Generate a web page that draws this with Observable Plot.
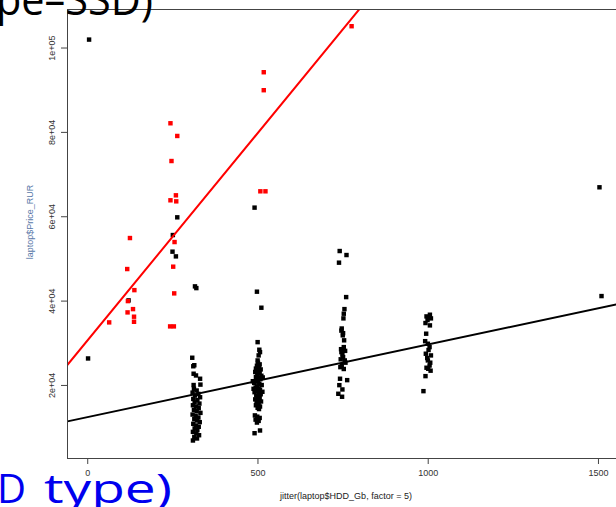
<!DOCTYPE html>
<html><head><meta charset="utf-8">
<script src="https://cdn.jsdelivr.net/npm/d3@7"></script>
<script src="https://cdn.jsdelivr.net/npm/@observablehq/plot@0.6"></script>
<style>
html,body{margin:0;padding:0;background:#fff;overflow:hidden}
#wrap{position:relative;width:616px;height:507px;overflow:hidden;background:#fff}
#wrap > svg{position:absolute;left:0;top:0}
</style></head><body>
<div id="wrap"></div>
<script>
// ---- data ----
const blackHDD = [4,1,120,250,249,259,263,
 307,313,310,311,318,330,311,331,315,319,
 312,320,308,325,315,330,310,322,314,328,309,318,326,312,320,331,308,317,325,313,321,329,310,318,326,314,322,309,319,327,313,321,309,
 490,497,510,499,504,506,502,499,
 500,505,497,503,494,508,500,492,505,498,510,494,502,507,496,500,489,504,511,497,493,502,506,498,490,503,508,495,500,505,492,499,509,496,502,494,506,499,503,
 485,514,487,513,491,498,505,493,502,497,490,506,
 740,760,738,759,754,752,751,746,745,750,749,753,752,744,756,745,748,750,743,755,757,746,742,752,741,762,739,748,736,747,
 995,1005,1000,998,1008,1005,992,994,991,999,1004,1001,993,1008,997,999,1006,1004,995,1000,1007,992,986,
 1503,1509];
const blackPrice = [102000,26400,40170,55660,51720,50600,59860,
 26570,24800,24550,22780,22370,21590,20100,20200,43490,43080,
 19200,18800,18300,18000,17600,17200,16800,16500,16000,15700,15300,15000,14600,14200,13900,13500,13100,12800,12400,12000,11700,11300,10900,10500,10200,9800,9400,9000,8600,8200,7800,7430,6950,
 62160,42230,38430,30270,28470,27900,27120,25930,
 25400,25000,24700,24300,24000,23800,23500,23200,22900,22600,22300,22000,21800,21500,21200,20900,20600,20400,20100,19800,19500,19300,19000,18700,18400,18200,17900,17600,17300,17000,16700,16400,16200,15900,15600,15300,15000,14700,14400,
 21000,21900,19200,18500,12900,12600,12300,11900,11600,11200,8680,9320,
 51870,50920,49110,40950,38100,37010,35900,33500,33000,32400,31880,30700,29090,28600,28200,27900,27300,26720,26200,25930,25400,24800,24340,23900,21590,21260,20070,19050,18030,17320,
 36370,36770,36000,35500,35900,34240,34800,32270,30500,29890,29090,28400,27520,27120,26500,25930,25400,24740,24200,23960,23500,22210,18650,
 66980,41190];
const redHDD = [63,116,124,137,118,117,133,136,136,242,253,254,251,255,243,260,259,246,263,243,517,517,507,522,775];
const redPrice = [34950,47600,54950,42600,40000,37320,38100,36300,35100,34000,34000,41830,48160,54000,63900,63650,65080,73210,79150,82160,94260,90000,66030,66030,105170];
// regression lines: [intercept, slope]
const blackFit = [12510, 17.21];
const redFit = [30745, 98.35];
const xTicks = [0, 500, 1000, 1500];
const yTicks = [20000, 40000, 60000, 80000, 100000];
const yTickLabels = ["2e+04", "4e+04", "6e+04", "8e+04", "1e+05"];
const xTitle = "jitter(laptop$HDD_Gb, factor = 5)";
const yTitle = "laptop$Price_RUR";
const xDomain = [-59.4, 1553];
const yDomain = [2681, 109135];

const black = blackHDD.map((x, i) => ({x, y: blackPrice[i]}));
const red = redHDD.map((x, i) => ({x, y: redPrice[i]}));
const fitLine = f => xDomain.map(x => ({x, y: f[0] + f[1] * x}));
const yLab = new Map(yTicks.map((t, i) => [t, yTickLabels[i]]));

const chart = Plot.plot({
  width: 616, height: 507,
  marginLeft: 67, marginRight: 0, marginTop: 9, marginBottom: 49,
  style: {fontFamily: "'Liberation Sans', Arial, sans-serif", fontSize: "9px", color: "#333", background: "#fff"},
  x: {domain: xDomain},
  y: {domain: yDomain},
  marks: [
    Plot.dot(black, {x: "x", y: "y", symbol: "square", r: 2.5, fill: "#000", stroke: "none"}),
    Plot.dot(red, {x: "x", y: "y", symbol: "square", r: 2.5, fill: "#ff0000", stroke: "none"}),
    Plot.line(fitLine(redFit), {x: "x", y: "y", stroke: "#ff0000", strokeWidth: 2, clip: true}),
    Plot.line(fitLine(blackFit), {x: "x", y: "y", stroke: "#000", strokeWidth: 2, clip: true}),
    Plot.ruleY([yDomain[0], yDomain[1]], {stroke: "#444", strokeWidth: 1}),
    Plot.ruleX([xDomain[0]], {stroke: "#444", strokeWidth: 1}),
    Plot.axisX(xTicks, {tickSize: 6, tickPadding: 5, tickFormat: d => String(d), label: null, stroke: "#444"}),
    Plot.axisY(yTicks, {tickSize: 6, tickPadding: 7, tickRotate: -90, tickFormat: d => yLab.get(d), label: null, stroke: "#444"}),
    Plot.text([xTitle], {frameAnchor: "bottom", dx: 4, dy: 40, fill: "#222"}),
    Plot.text([yTitle], {frameAnchor: "left", textAnchor: "middle", rotate: -90, dx: -37, dy: -12, fill: "#5878a8"})
  ]
});
const wrap = document.getElementById("wrap");
wrap.appendChild(chart);

// slide text overlapping the chart in the picture
const ns = "http://www.w3.org/2000/svg";
const ov = document.createElementNS(ns, "svg");
ov.setAttribute("width", 616); ov.setAttribute("height", 507);
const mk = (s, x, y, size, fill, len) => {
  const t = document.createElementNS(ns, "text");
  t.setAttribute("x", x); t.setAttribute("y", y);
  t.setAttribute("font-family", "'Open Sans', 'Noto Sans', sans-serif");
  t.setAttribute("font-size", size); t.setAttribute("fill", fill);
  if (len) { t.setAttribute("textLength", len); t.setAttribute("lengthAdjust", "spacingAndGlyphs"); }
  t.textContent = s; ov.appendChild(t);
};
mk("pe\u2013SSD)", -4, 15, 44, "#000", 157);
mk("D", -3, 503, 40, "#0000ee");
mk("type)", 44, 503, 40, "#0000ee", 128);
wrap.appendChild(ov);
</script>
</body></html>
